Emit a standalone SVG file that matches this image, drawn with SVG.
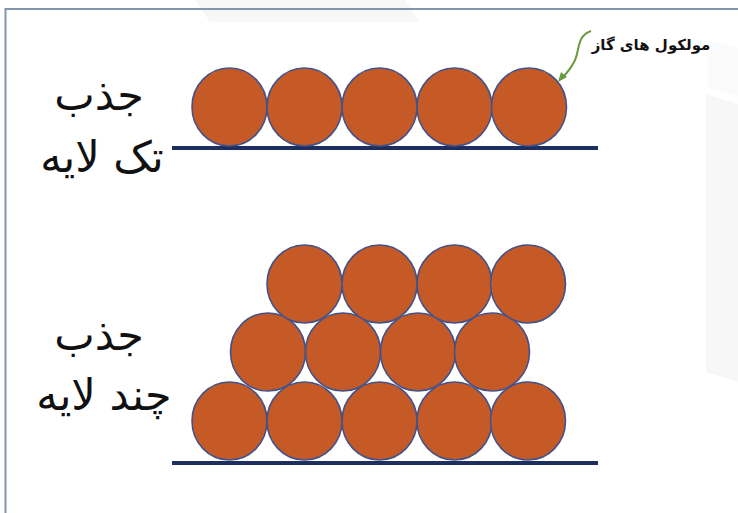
<svg xmlns="http://www.w3.org/2000/svg" width="738" height="513" viewBox="0 0 738 513">
<style>
.m{fill:#c55a26;stroke:#44528a;stroke-width:1.6}
.base{stroke:#1d2f5e;stroke-width:4}
.t{font-family:"DejaVu Sans",sans-serif;font-size:43px;fill:#111;text-anchor:middle}
.lbl{font-family:"DejaVu Sans",sans-serif;font-size:15px;font-weight:bold;fill:#111;text-anchor:middle}
</style>
<rect width="738" height="513" fill="#fff"/>
<g id="watermark" fill="#f7f7f7">
<polygon points="195,0 405,0 420,22 210,22"/>
<polygon points="706,94 738,104 738,382 706,372"/>
<polygon points="708,40 738,48 738,96 708,88" fill="#fbfbfb"/>
</g>
<path id="frame" d="M5.5,513 V9 H738" fill="none" stroke="#8494aa" stroke-width="2"/>
<g id="label-top">
<text class="t" x="99" y="110" direction="rtl">جذب</text>
<text class="t" x="102" y="172" direction="rtl">تک لایه</text>
</g>
<g id="label-bottom">
<text class="t" x="99" y="350" direction="rtl">جذب</text>
<text class="t" x="104" y="410" direction="rtl">چند لایه</text>
</g>
<g id="gas-label">
<text class="lbl" x="651" y="50" direction="rtl">مولکول های گاز</text>
</g>
<g id="connectors">
<path d="M591,31 C576,36 580,52 574,62 C570,70 566,74 562,78" fill="none" stroke="#6a9a3c" stroke-width="2"/>
<path d="M558,82 L561,72 L567,77 Z" fill="#6a9a3c"/>
</g>
<g id="monolayer">
<line class="base" x1="172" y1="148" x2="598" y2="148"/>
<ellipse class="m" cx="229.5" cy="107" rx="37.5" ry="39"/>
<ellipse class="m" cx="304.5" cy="107" rx="37.5" ry="39"/>
<ellipse class="m" cx="379.5" cy="107" rx="37.5" ry="39"/>
<ellipse class="m" cx="454.5" cy="107" rx="37.5" ry="39"/>
<ellipse class="m" cx="529" cy="107" rx="37.5" ry="39"/>
</g>
<g id="multilayer">
<line class="base" x1="172" y1="463" x2="598" y2="463"/>
<ellipse class="m" cx="229.5" cy="421" rx="37.5" ry="39"/>
<ellipse class="m" cx="304.5" cy="421" rx="37.5" ry="39"/>
<ellipse class="m" cx="379.5" cy="421" rx="37.5" ry="39"/>
<ellipse class="m" cx="454.5" cy="421" rx="37.5" ry="39"/>
<ellipse class="m" cx="528" cy="421" rx="37.5" ry="39"/>
<ellipse class="m" cx="268" cy="352" rx="37.5" ry="39"/>
<ellipse class="m" cx="343" cy="352" rx="37.5" ry="39"/>
<ellipse class="m" cx="418" cy="352" rx="37.5" ry="39"/>
<ellipse class="m" cx="492" cy="352" rx="37.5" ry="39"/>
<ellipse class="m" cx="304.5" cy="284" rx="37.5" ry="39"/>
<ellipse class="m" cx="379.5" cy="284" rx="37.5" ry="39"/>
<ellipse class="m" cx="454.5" cy="284" rx="37.5" ry="39"/>
<ellipse class="m" cx="528" cy="284" rx="37.5" ry="39"/>
</g>
</svg>
